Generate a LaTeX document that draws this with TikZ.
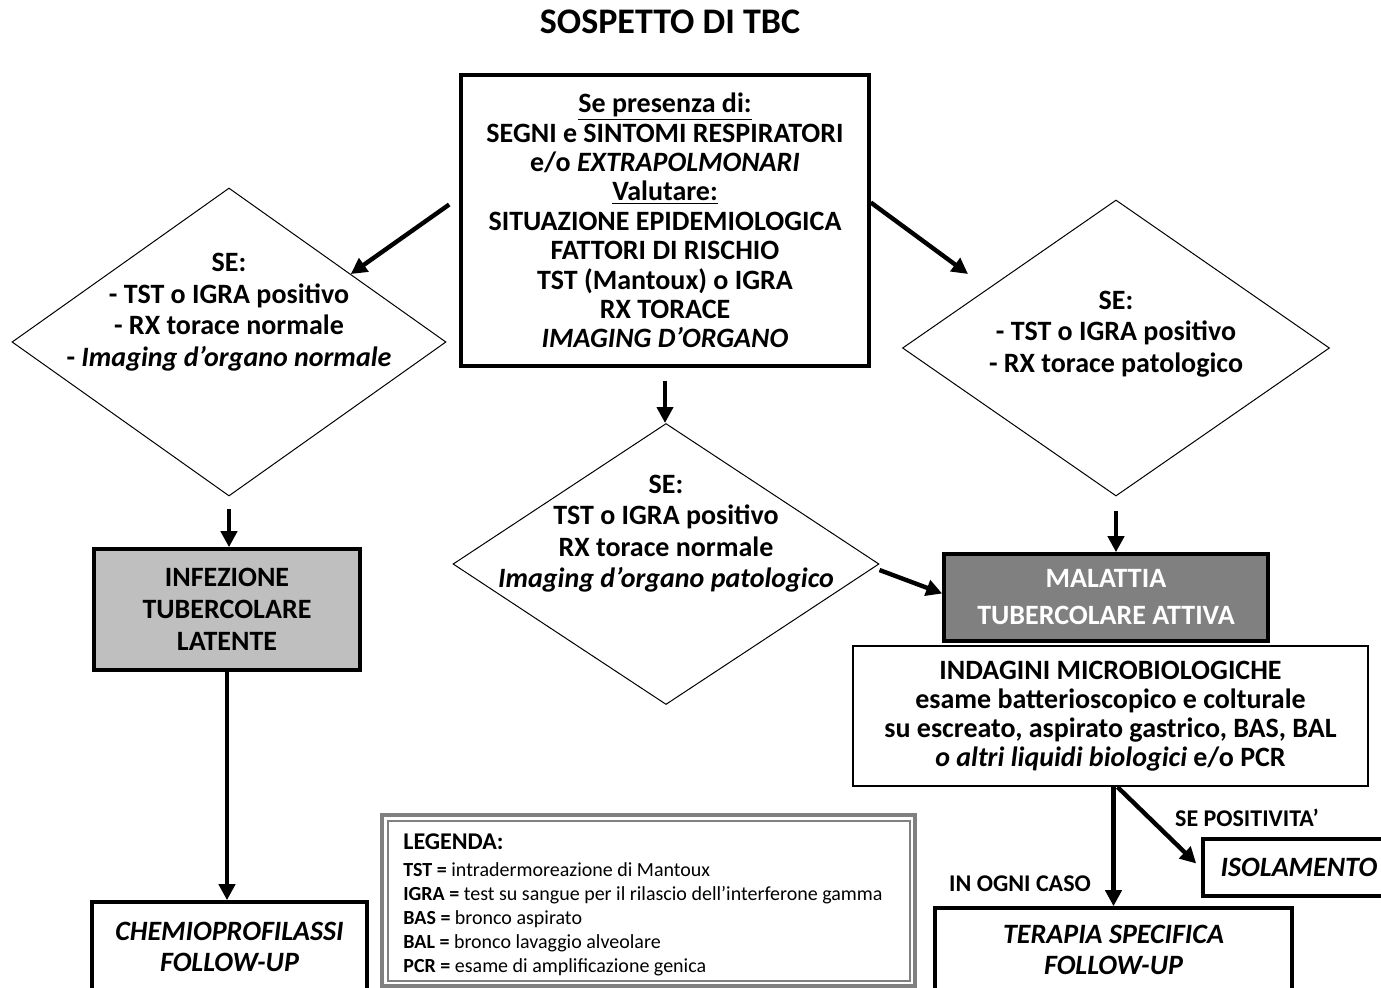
\documentclass[tikz,border=0pt]{standalone}
\usepackage{fontspec}
\setmainfont{Carlito}
\usepackage{tikz}
\usetikzlibrary{shapes.geometric, arrows.meta, positioning, calc}
\definecolor{latentgray}{RGB}{191,191,191}
\definecolor{activegray}{RGB}{128,128,128}
\definecolor{legendgray}{RGB}{128,128,128}
\tikzset{
  flowbox/.style={
    rectangle, draw, line width=1.8pt,
    align=center, inner sep=0pt,
    font=\fontsize{14}{14.7}\selectfont\bfseries
  },
  flowboxL/.style={flowbox, fill=latentgray, font=\fontsize{14}{16}\selectfont\bfseries},
  flowboxA/.style={flowbox, fill=activegray, text=white, font=\fontsize{14}{18.5}\selectfont\bfseries},
  flowboxT/.style={flowbox, line width=1pt, font=\fontsize{14}{14.4}\selectfont\bfseries},
  flowboxI/.style={flowbox, font=\fontsize{14}{15.5}\selectfont\bfseries\itshape},
  decision/.style={diamond, draw, line width=0.5pt, inner sep=0pt},
  dectext/.style={align=center, inner sep=0pt, font=\fontsize{14}{15.75}\selectfont\bfseries},
  edgelabel/.style={inner sep=0pt, font=\fontsize{12}{14}\selectfont\bfseries},
  arrow/.style={-{Triangle[length=8pt,width=8pt]}, line width=2.2pt}
}

\begin{document}
\begin{tikzpicture}[x=0.5pt, y=-0.5pt]
  \useasboundingbox (0,0) rectangle (1381,987);

  % Title
  \node[font=\fontsize{18}{20}\selectfont\bfseries] (title) at (670,22) {SOSPETTO DI TBC};

  % Starting box
  \node[flowbox, minimum width=204pt, minimum height=145.5pt] (start) at (665,220.5)
    {\underline{Se presenza di:}\\
     SEGNI e SINTOMI RESPIRATORI\\
     e/o \textit{EXTRAPOLMONARI}\\
     \underline{Valutare:}\\
     SITUAZIONE EPIDEMIOLOGICA\\
     FATTORI DI RISCHIO\\
     TST (Mantoux) o IGRA\\
     RX TORACE\\
     \textit{IMAGING D’ORGANO}};

  % Decisions
  \node[decision, minimum width=217pt, minimum height=154pt] (dleft) at (229,342) {};
  \node[dectext] (tleft) at (229,312)
    {SE:\\- TST o IGRA positivo\\- RX torace normale\\- \textit{Imaging d’organo normale}};

  \node[decision, minimum width=213.5pt, minimum height=148pt] (dright) at (1116,348) {};
  \node[dectext] (tright) at (1116,334)
    {SE:\\- TST o IGRA positivo\\- RX torace patologico};

  \node[decision, minimum width=213pt, minimum height=140.5pt] (dmid) at (666,564) {};
  \node[dectext] (tmid) at (666,533.5)
    {SE:\\TST o IGRA positivo\\RX torace normale\\\textit{Imaging d’organo patologico}};

  % Outcomes
  \node[flowboxL, minimum width=133pt, minimum height=60.5pt] (latent) at (227,609.5)
    {INFEZIONE\\TUBERCOLARE\\LATENTE};
  \node[flowboxI, minimum width=137.5pt, minimum height=45pt] (chemio) at (229.5,947)
    {CHEMIOPROFILASSI\\FOLLOW-UP};
  \node[flowboxA, minimum width=162pt, minimum height=43.5pt] (active) at (1106,597.5)
    {MALATTIA\\TUBERCOLARE ATTIVA};
  \node[flowboxT, minimum width=257.5pt, minimum height=70pt] (micro) at (1110.5,716)
    {INDAGINI MICROBIOLOGICHE\\
     esame batterioscopico e colturale\\
     su escreato, aspirato gastrico, BAS, BAL\\
     \textit{o altri liquidi biologici} e/o PCR};
  \node[flowboxI, minimum width=96pt, minimum height=28.5pt] (isol) at (1299,867.5) {ISOLAMENTO};
  \node[flowboxI, line width=1.8pt, minimum width=178.5pt, minimum height=42pt] (therapy) at (1113.5,950)
    {TERAPIA SPECIFICA\\FOLLOW-UP};

  % Legend
  \node[draw=legendgray, line width=2pt, minimum width=266.5pt, minimum height=85.5pt, inner sep=0pt] (legend) at (648.5,900.5) {};
  \draw[legendgray, line width=0.6pt] ([shift={(4pt,-4pt)}]legend.north west) rectangle ([shift={(-3.5pt,3.5pt)}]legend.south east);
  \node[anchor=west, align=left, inner sep=0pt, font=\fontsize{10}{12}\selectfont] (legtext) at (403,905)
    {{\fontsize{12}{12}\selectfont\bfseries LEGENDA:}\\[1.5pt]
     \textbf{TST =} intradermoreazione di Mantoux\\
     \textbf{IGRA =} test su sangue per il rilascio dell’interferone gamma\\
     \textbf{BAS =} bronco aspirato\\
     \textbf{BAL =} bronco lavaggio alveolare\\
     \textbf{PCR =} esame di amplificazione genica};

  % Arrows
  \draw[arrow] ([xshift=-5pt,yshift=8pt]start.west) -- ($(dleft.north)!0.56!(dleft.east)$);
  \coordinate (rtip) at ([xshift=33pt,yshift=37pt]dright.west);
  \draw[arrow] ([yshift=9pt]start.east) -- (rtip);
  \draw[arrow] ([yshift=-6.5pt]start.south) -- (start.south |- dmid.north);
  \draw[arrow] ([yshift=-6pt]dleft.south) -- (dleft.south |- latent.north);
  \draw[arrow] (latent.south) -- (latent.south |- chemio.north);
  \draw[arrow] ([yshift=-7pt]dright.south) -- (dright.south |- active.north);
  \draw[arrow] ([yshift=-3pt]dmid.east) -- ([yshift=2pt]active.west);
  \coordinate (split) at (micro.south -| therapy.north);
  \draw[arrow] (split) -- (therapy.north);
  \draw[arrow] ([xshift=2pt]split) -- ([xshift=-2.5pt,yshift=2pt]isol.west);

  % Branch labels
  \node[edgelabel] (lpos) at (1247,818) {SE POSITIVITA’};
  \node[edgelabel] (lany) at (1020,884) {IN OGNI CASO};
\end{tikzpicture}
\end{document}
